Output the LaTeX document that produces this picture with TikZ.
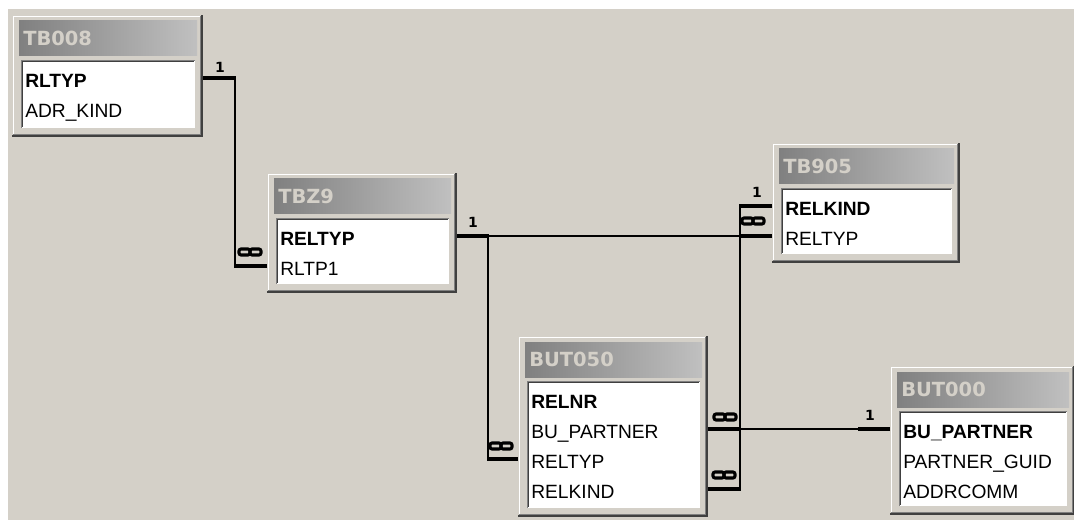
\documentclass[tikz,border=0pt]{standalone}
\usepackage{fontspec}
\setmainfont{Liberation Sans}
\newfontfamily\titlefont{DejaVu Sans}
\usetikzlibrary{calc}
\definecolor{face}{HTML}{D4D0C8}
\definecolor{shadowdk}{HTML}{404040}
\definecolor{shadowmd}{HTML}{808080}
\definecolor{tbleft}{HTML}{808080}
\definecolor{tbright}{HTML}{C0C0C0}
\tikzset{
  titletext/.style={inner sep=0pt, text=face, font=\titlefont\bfseries\fontsize{14.6pt}{16pt}\selectfont},
  fieldtext/.style={inner sep=0pt, text=black, font=\fontsize{14.4pt}{16pt}\selectfont},
  keytext/.style={inner sep=0pt, text=black, font=\bfseries\fontsize{14.4pt}{16pt}\selectfont},
  onelabel/.style={inner sep=0pt, text=black, font=\titlefont\bfseries\fontsize{10.5pt}{11pt}\selectfont},
  conn/.style={line width=1.5pt, black},
  endbar/.style={line width=3.6pt, black, line cap=butt},
  inf/.pic={
    \draw[line width=2.3pt, rounded corners=1.5pt] (-11,-3) rectangle (0,3);
    \draw[line width=2.3pt, rounded corners=1.5pt] (0,-3) rectangle (11,3);
  }
}
% name, x1, y1, x2, y2, title
\newcommand{\tablebox}[6]{%
  \def\tbX{#2}\def\tbY{#3}\def\tbXX{#4}%
  \fill[face] (#2,#3) rectangle (#4,#5);
  \draw[white, line width=1.1pt] ({#2+1.5},{#5-2}) -- ({#2+1.5},{#3+1.5}) -- ({#4-2},{#3+1.5});
  \draw[shadowmd, line width=1pt] ({#2+1},{#5-2.3}) -- ({#4-2.3},{#5-2.3}) -- ({#4-2.3},{#3+1});
  \draw[shadowdk, line width=1.3pt] ({#2},{#5-0.9}) -- ({#4-0.9},{#5-0.9}) -- ({#4-0.9},{#3});
  \shade[left color=tbleft, right color=tbright] ({#2+7},{#3+6}) rectangle ({#4-6},{#3+41});
  \fill[white] ({#2+9},{#3+45}) rectangle ({#4-8},{#5-9});
  \draw[shadowmd, line width=0.75pt] ({#2+9.5},{#5-9}) -- ({#2+9.5},{#3+45.5}) -- ({#4-8},{#3+45.5});
  \draw[shadowdk, line width=0.75pt] ({#2+10.5},{#5-10}) -- ({#2+10.5},{#3+46.5}) -- ({#4-9},{#3+46.5});
  \node[titletext, anchor=base west] (#1-title) at ({#2+11},{#3+30.5}) {#6};
}
% name, k, style, text
\newcommand{\tablefield}[4]{%
  \node[#3, anchor=base west] (#1-f#2) at ({\tbX+13},{\tbY+72.5+30*(#2-1)}) {#4};
  \coordinate (#1-#2W) at ({\tbX},{\tbY+63+30*(#2-1)});
  \coordinate (#1-#2E) at ({\tbXX},{\tbY+63+30*(#2-1)});
}
\begin{document}
\begin{tikzpicture}[x=0.75pt,y=-0.75pt]
\useasboundingbox (0,0) rectangle (1074,520);
\clip (0,0) rectangle (1074,520);
\fill[white] (0,0) rectangle (1074,520);
\fill[face] (8,9) rectangle (1074,520);

\tablebox{tb008}{12}{15}{203}{137}{TB008}
\tablefield{tb008}{1}{keytext}{RLTYP}
\tablefield{tb008}{2}{fieldtext}{ADR\_KIND}

\tablebox{tbz9}{267}{173}{457}{293}{TBZ9}
\tablefield{tbz9}{1}{keytext}{RELTYP}
\tablefield{tbz9}{2}{fieldtext}{RLTP1}

\tablebox{tb905}{772}{143}{960}{263}{TB905}
\tablefield{tb905}{1}{keytext}{RELKIND}
\tablefield{tb905}{2}{fieldtext}{RELTYP}

\tablebox{but050}{518}{336}{708}{517}{BUT050}
\tablefield{but050}{1}{keytext}{RELNR}
\tablefield{but050}{2}{fieldtext}{BU\_PARTNER}
\tablefield{but050}{3}{fieldtext}{RELTYP}
\tablefield{but050}{4}{fieldtext}{RELKIND}

\tablebox{but000}{890}{366}{1075}{515}{BUT000}
\tablefield{but000}{1}{keytext}{BU\_PARTNER}
\tablefield{but000}{2}{fieldtext}{PARTNER\_GUID}
\tablefield{but000}{3}{fieldtext}{ADDRCOMM}

% TB008.RLTYP (1) -> TBZ9.RLTP1 (inf)
\draw[conn] (tb008-1E) -- ++(32,0) |- (tbz9-2W);
\draw[endbar] (tb008-1E) -- ++(33,0);
\draw[endbar] (tbz9-2W) -- ++(-33,0);
\node[onelabel] (l-tb008) at ($(tb008-1E)+(17,-11)$) {1};
\pic at ($(tbz9-2W)+(-17,-14)$) {inf};

% TBZ9.RELTYP (1) -> TB905.RELTYP (inf)
\draw[conn] (tbz9-1E) -- (tb905-2W);
% TBZ9.RELTYP (1) -> BUT050.RELTYP (inf)
\draw[conn] (tbz9-1E) -- ++(31,0) |- (but050-3W);
\draw[endbar] (tbz9-1E) -- ++(32,0);
\draw[endbar] (tb905-2W) -- ++(-33,0);
\draw[endbar] (but050-3W) -- ++(-31,0);
\node[onelabel] (l-tbz9) at ($(tbz9-1E)+(16,-14)$) {1};
\pic at ($(tb905-2W)+(-19,-15)$) {inf};
\pic at ($(but050-3W)+(-17,-13)$) {inf};

% TB905.RELKIND (1) -> BUT050.RELKIND (inf)
\draw[conn] (tb905-1W) -- ++(-32,0) |- (but050-4E);
\draw[endbar] (tb905-1W) -- ++(-33,0);
\draw[endbar] (but050-4E) -- ++(33,0);
\node[onelabel] (l-tb905) at ($(tb905-1W)+(-15,-14)$) {1};
\pic at ($(but050-4E)+(16,-14)$) {inf};

% BUT050.BU_PARTNER (inf) -> BUT000.BU_PARTNER (1)
\draw[conn] (but050-2E) -- (but000-1W);
\draw[endbar] (but050-2E) -- ++(33,0);
\draw[endbar] (but000-1W) -- ++(-32,0);
\node[onelabel] (l-but000) at ($(but000-1W)+(-20,-14)$) {1};
\pic at ($(but050-2E)+(17,-12)$) {inf};
\end{tikzpicture}
\end{document}
